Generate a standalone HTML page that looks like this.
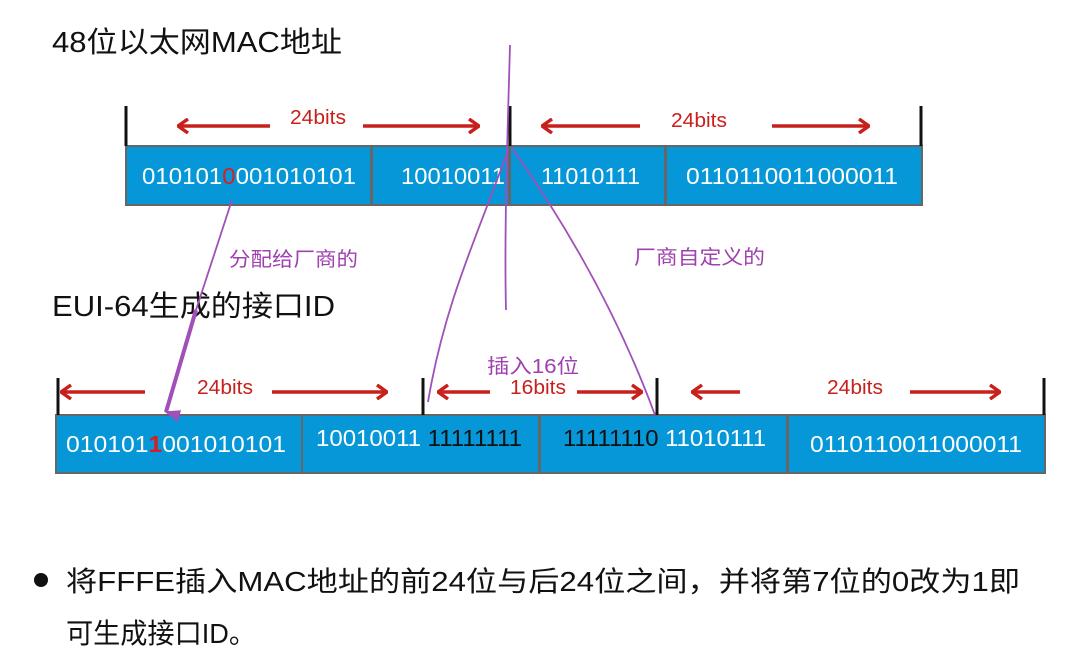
<!DOCTYPE html>
<html><head><meta charset="utf-8"><style>
body{margin:0;background:#fff;width:1071px;height:656px;overflow:hidden;font-family:"Liberation Sans","Noto Sans CJK SC",sans-serif;}
</style></head><body>
<svg width="1071" height="656" xmlns="http://www.w3.org/2000/svg" style="font-family:'Liberation Sans','Noto Sans CJK SC',sans-serif">
<defs>
<marker id="ah" markerWidth="12" markerHeight="16" refX="11" refY="8" orient="auto" markerUnits="userSpaceOnUse"><path d="M1,1 L11,8 L1,15" fill="none" stroke="#c8201c" stroke-width="3.5"/></marker>
<marker id="pa" markerWidth="12" markerHeight="16" refX="6" refY="14" orient="auto" markerUnits="userSpaceOnUse"><path d="M0,0 L12,0 L6,16 Z" fill="#a050b8"/></marker>
</defs>
<text x="52" y="52" font-size="29" fill="#111" textLength="290" lengthAdjust="spacingAndGlyphs">48位以太网MAC地址</text>
<text x="52" y="316" font-size="29" fill="#111" textLength="283" lengthAdjust="spacingAndGlyphs">EUI-64生成的接口ID</text>
<g fill="#0597d7" stroke="#666" stroke-width="2">
<rect x="126" y="146" width="245" height="59"/><rect x="372" y="146" width="137" height="59"/><rect x="510" y="146" width="155" height="59"/><rect x="666" y="146" width="256" height="59"/>
<rect x="56" y="415" width="246" height="58"/><rect x="302" y="415" width="237" height="58"/><rect x="540" y="415" width="247" height="58"/><rect x="788" y="415" width="257" height="58"/>
</g>
<g font-size="23" fill="#fff">
<text x="142" y="184" textLength="214" lengthAdjust="spacingAndGlyphs">010101<tspan fill="#d81e1e">0</tspan>001010101</text>
<text x="401" y="184" textLength="104" lengthAdjust="spacingAndGlyphs">10010011</text>
<text x="541" y="184" textLength="99" lengthAdjust="spacingAndGlyphs">11010111</text>
<text x="686" y="184" textLength="212" lengthAdjust="spacingAndGlyphs">0110110011000011</text>
<text x="66" y="452" textLength="220" lengthAdjust="spacingAndGlyphs">010101<tspan fill="#d81e1e" font-weight="bold">1</tspan>001010101</text>
<text x="316" y="446" textLength="206" lengthAdjust="spacingAndGlyphs">10010011 <tspan fill="#111">11111111</tspan></text>
<text x="563" y="446" fill="#111" textLength="203" lengthAdjust="spacingAndGlyphs">11111110 <tspan fill="#fff">11010111</tspan></text>
<text x="810" y="452" textLength="212" lengthAdjust="spacingAndGlyphs">0110110011000011</text>
</g>
<g stroke="#111" stroke-width="3">
<line x1="126" y1="106" x2="126" y2="146"/><line x1="510" y1="106" x2="510" y2="146"/><line x1="921" y1="106" x2="921" y2="146"/>
<line x1="58" y1="378" x2="58" y2="415"/><line x1="423" y1="378" x2="423" y2="415"/><line x1="657" y1="378" x2="657" y2="415"/><line x1="1044" y1="378" x2="1044" y2="415"/>
</g>
<g stroke="#c8201c" stroke-width="3.5" marker-end="url(#ah)">
<line x1="270" y1="126" x2="178" y2="126"/><line x1="363" y1="126" x2="479" y2="126"/>
<line x1="640" y1="126" x2="542" y2="126"/><line x1="772" y1="126" x2="869" y2="126"/>
<line x1="145" y1="392" x2="61" y2="392"/><line x1="272" y1="392" x2="387" y2="392"/>
<line x1="490" y1="392" x2="438" y2="392"/><line x1="577" y1="392" x2="642" y2="392"/>
<line x1="740" y1="392" x2="692" y2="392"/><line x1="910" y1="392" x2="1000" y2="392"/>
</g>
<g font-size="20" fill="#c8201c">
<text x="290" y="124" textLength="56" lengthAdjust="spacingAndGlyphs">24bits</text><text x="671" y="127" textLength="56" lengthAdjust="spacingAndGlyphs">24bits</text>
<text x="197" y="394" textLength="56" lengthAdjust="spacingAndGlyphs">24bits</text><text x="510" y="394" textLength="56" lengthAdjust="spacingAndGlyphs">16bits</text><text x="827" y="394" textLength="56" lengthAdjust="spacingAndGlyphs">24bits</text>
</g>
<g stroke="#a050b8" stroke-width="1.8" fill="none">
<path d="M510,45 C508,120 504,230 506,310"/>
<path d="M508,150 C480,230 445,300 428,402"/>
<path d="M512,148 C570,230 620,320 655,415"/>
<path d="M232,200 L196,310"/>
</g>
<path d="M196,310 L166,412" stroke="#a050b8" stroke-width="4" marker-end="url(#pa)"/>
<g font-size="20" fill="#a040b0">
<text x="229" y="266" textLength="129" lengthAdjust="spacingAndGlyphs">分配给厂商的</text><text x="634" y="264" textLength="131" lengthAdjust="spacingAndGlyphs">厂商自定义的</text><text x="487" y="373" textLength="92" lengthAdjust="spacingAndGlyphs">插入16位</text>
</g>
<circle cx="41" cy="580" r="7" fill="#111"/>
<text x="66" y="591" font-size="28" fill="#111" textLength="954" lengthAdjust="spacingAndGlyphs">将FFFE插入MAC地址的前24位与后24位之间，并将第7位的0改为1即</text>
<text x="66" y="643" font-size="28" fill="#111" textLength="190" lengthAdjust="spacingAndGlyphs">可生成接口ID。</text>
</svg>
</body></html>
